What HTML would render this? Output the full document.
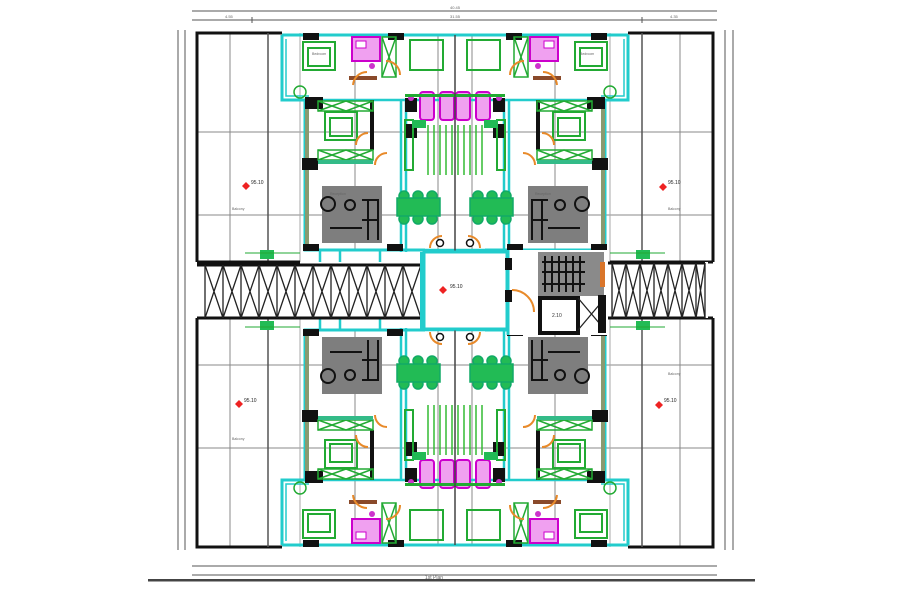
<!DOCTYPE html>
<html><head><meta charset="utf-8"><style>
html,body{margin:0;padding:0;background:#fff;}
svg{display:block;font-family:"Liberation Sans",sans-serif;}
</style></head><body>
<svg width="900" height="600" viewBox="0 0 900 600" xmlns="http://www.w3.org/2000/svg">
<defs>
<g id="q">
  <!-- grid lines -->
  <g stroke="#888" stroke-width="1">
    <line x1="197" y1="132" x2="455" y2="132"/>
    <line x1="197" y1="215" x2="455" y2="215"/>
    <line x1="230" y1="33" x2="230" y2="262"/>
    <line x1="355" y1="35" x2="355" y2="250"/>
    <line x1="438" y1="35" x2="438" y2="250"/>
    <line x1="300" y1="33" x2="300" y2="262" stroke="#aaa"/>
  </g>
  <!-- outer balcony frame -->
  <path d="M197,262 V33 H282" fill="none" stroke="#111" stroke-width="3"/>
  <line x1="268" y1="33" x2="268" y2="262" stroke="#555" stroke-width="1.5"/>
  <line x1="197" y1="262" x2="300" y2="262" stroke="#111" stroke-width="3"/>
  <!-- cyan walls -->
  <path d="M282,35 H455 M282,35 V100 H305 V250 H425" fill="none" stroke="#2cc" stroke-width="3"/>
  <path d="M286,39 V96 H309" fill="none" stroke="#2cc" stroke-width="1.5"/>
  <rect x="305" y="105" width="4" height="140" fill="#8a9a70"/>
  <g stroke="#2cc" stroke-width="2.5">
    <line x1="401" y1="100" x2="401" y2="252"/>
    <line x1="406" y1="100" x2="406" y2="252"/>
    <line x1="300" y1="100" x2="455" y2="100"/>
    <line x1="305" y1="250" x2="455" y2="250"/>
    <line x1="320" y1="250" x2="320" y2="262"/>
    <line x1="340" y1="250" x2="340" y2="262"/>
    <line x1="380" y1="250" x2="380" y2="262"/>
  </g>
  <!-- black columns -->
  <g fill="#111">
    <rect x="303" y="33" width="16" height="7"/>
    <rect x="388" y="33" width="16" height="7"/>
    <rect x="305" y="97" width="18" height="12"/>
    <rect x="302" y="158" width="16" height="12"/>
    <rect x="405" y="98" width="12" height="14"/>
    <rect x="405" y="124" width="12" height="14"/>
    <rect x="303" y="244" width="16" height="7"/>
    <rect x="387" y="244" width="16" height="7"/>
    <rect x="370" y="100" width="4" height="50"/>
  </g>
  <!-- beds -->
  <g fill="none" stroke="#2a3" stroke-width="2">
    <rect x="303" y="42" width="32" height="28"/>
    <rect x="308" y="48" width="22" height="18"/>
    <rect x="410" y="40" width="33" height="30"/>
    <rect x="325" y="112" width="32" height="28"/>
    <rect x="330" y="118" width="22" height="18"/>
  </g>
  <!-- wardrobes -->
  <g fill="none" stroke="#2a3" stroke-width="1.5">
    <rect x="318" y="101" width="55" height="10"/>
    <path d="M318,101 L346,111 M346,101 L318,111 M346,101 L373,111 M373,101 L346,111"/>
    <rect x="318" y="150" width="55" height="10"/>
    <path d="M318,150 L346,160 M346,150 L318,160 M346,150 L373,160 M373,150 L346,160"/>
    <rect x="382" y="37" width="14" height="40"/>
    <path d="M382,37 L396,77 M396,37 L382,77"/>
    <circle cx="300" cy="92" r="6"/>
  </g>
  <rect x="318" y="160" width="55" height="4" fill="#3b8"/>
  <!-- bath magenta -->
  <rect x="352" y="37" width="28" height="24" fill="#f0a0f0" stroke="#c0c" stroke-width="2"/>
  <rect x="356" y="41" width="10" height="7" fill="#fff" stroke="#c0c"/>
  <circle cx="372" cy="66" r="3" fill="#c3c"/>
  <rect x="349" y="76" width="28" height="4" fill="#8a4a2a"/>
  <rect x="420" y="92" width="14" height="28" fill="#f0a0f0" stroke="#c0c" stroke-width="2" rx="3"/>
  <rect x="440" y="92" width="14" height="28" fill="#f0a0f0" stroke="#c0c" stroke-width="2" rx="3"/>
  <circle cx="411" cy="98" r="3" fill="#c3c"/>
  <rect x="405" y="94" width="50" height="3" fill="#2a3"/>
  <!-- door arcs -->
  <g fill="none" stroke="#e88a2a" stroke-width="2">
    <path d="M353,85 A14,14 0 0 1 367,72"/>
    <path d="M356,145 A12,12 0 0 1 368,133"/>
    <path d="M375,165 A12,12 0 0 1 387,153"/>
    <path d="M430,248 A12,12 0 0 1 442,236"/>
    <path d="M400,75 A14,14 0 0 0 386,61"/>
  </g>
  <circle cx="440" cy="243" r="3.5" fill="#fff" stroke="#111" stroke-width="1.5"/>
  <!-- corridor column -->
  <rect x="405" y="120" width="8" height="50" fill="none" stroke="#2a3" stroke-width="2"/>
  <rect x="412" y="120" width="14" height="8" fill="#2b5"/>
  <g stroke="#3b3" stroke-width="1.5">
    <line x1="428" y1="125" x2="428" y2="175"/>
    <line x1="434" y1="125" x2="434" y2="175"/>
    <line x1="440" y1="125" x2="440" y2="175"/>
    <line x1="446" y1="125" x2="446" y2="175"/>
    <line x1="452" y1="125" x2="452" y2="175"/>
  </g>
  <!-- living -->
  <rect x="322" y="186" width="60" height="57" fill="#7e7e7e"/>
  <g fill="none" stroke="#111" stroke-width="2">
    <circle cx="328" cy="204" r="7"/>
    <circle cx="350" cy="205" r="5"/>
    <path d="M362,200 H378 V240 M368,200 V240 M362,220 H378 M330,228 H362"/>
  </g>
  <!-- dining -->
  <g fill="#2b5" stroke="#1a6" stroke-width="1.5">
    <circle cx="404" cy="196" r="5"/><circle cx="418" cy="196" r="5"/><circle cx="432" cy="196" r="5"/>
    <circle cx="404" cy="219" r="5"/><circle cx="418" cy="219" r="5"/><circle cx="432" cy="219" r="5"/>
    <rect x="397" y="198" width="43" height="18"/>
  </g>
  <!-- stair green mark -->
  <rect x="260" y="250" width="14" height="9" fill="#2b5"/>
  <line x1="245" y1="253" x2="300" y2="253" stroke="#2a3" stroke-width="1"/>
</g>
</defs>

<!-- dimension lines -->
<g stroke="#555" stroke-width="1" fill="#555">
  <line x1="192" y1="11" x2="717" y2="11"/>
  <line x1="192" y1="20" x2="717" y2="20"/>
  <line x1="252" y1="17" x2="252" y2="23"/><line x1="642" y1="17" x2="642" y2="23"/>
  <line x1="178" y1="30" x2="178" y2="550"/>
  <line x1="185" y1="30" x2="185" y2="550"/>
  <line x1="725" y1="30" x2="725" y2="550"/>
  <line x1="733" y1="30" x2="733" y2="550"/>
  <line x1="192" y1="566" x2="717" y2="566"/>
  <line x1="192" y1="575" x2="717" y2="575"/>
</g>
<rect x="148" y="579" width="607" height="2.5" fill="#444"/>
<g font-size="4" fill="#666">
  <text x="450" y="9">40.45</text><text x="225" y="18">4.55</text><text x="450" y="18">31.55</text><text x="670" y="18">4.35</text>
  <text x="425" y="579" font-size="5">1st Plan</text>
</g>

<use href="#q"/>
<use href="#q" transform="matrix(-1 0 0 1 910 0)"/>
<use href="#q" transform="matrix(1 0 0 -1 0 580)"/>
<use href="#q" transform="matrix(-1 0 0 -1 910 580)"/>
<line x1="455" y1="35" x2="455" y2="545" stroke="#444" stroke-width="1.5"/>

<!-- left truss -->
<rect x="197" y="264" width="226" height="54" fill="#fff"/>
<line x1="197" y1="265" x2="423" y2="265" stroke="#111" stroke-width="3"/>
<line x1="197" y1="318" x2="423" y2="318" stroke="#111" stroke-width="3"/>
<g stroke="#222" stroke-width="1.3">
  <path d="M205,265V318 M223,265V318 M241,265V318 M259,265V318 M277,265V318 M295,265V318 M313,265V318 M331,265V318 M349,265V318 M367,265V318 M385,265V318 M403,265V318 M421,265V318"/>
  <path d="M205,265L223,318M223,265L205,318M223,265L241,318M241,265L223,318M241,265L259,318M259,265L241,318M259,265L277,318M277,265L259,318M277,265L295,318M295,265L277,318M295,265L313,318M313,265L295,318M313,265L331,318M331,265L313,318M331,265L349,318M349,265L331,318M349,265L367,318M367,265L349,318M367,265L385,318M385,265L367,318M385,265L403,318M403,265L385,318M403,265L421,318M421,265L403,318"/>
</g>
<!-- right truss -->
<rect x="608" y="262" width="100" height="56" fill="#fff"/>
<line x1="608" y1="263" x2="705" y2="263" stroke="#111" stroke-width="3"/>
<line x1="608" y1="318" x2="705" y2="318" stroke="#111" stroke-width="3"/>
<g stroke="#222" stroke-width="1.3">
  <path d="M612,263V318 M626,263V318 M640,263V318 M654,263V318 M668,263V318 M682,263V318 M696,263V318 M705,263V318"/>
  <path d="M612,263L626,318M626,263L612,318M626,263L640,318M640,263L626,318M640,263L654,318M654,263L640,318M654,263L668,318M668,263L654,318M668,263L682,318M682,263L668,318M682,263L696,318M696,263L682,318M696,263L705,318M705,263L696,318"/>
</g>

<!-- centre box -->
<rect x="424" y="252" width="83" height="77" fill="#fff" stroke="#2cc" stroke-width="3"/>
<rect x="420" y="252" width="4" height="77" fill="#2cc"/>
<!-- core right -->
<rect x="508" y="250" width="100" height="85" fill="#fff"/>
<line x1="508" y1="250" x2="508" y2="335" stroke="#2cc" stroke-width="3"/>
<rect x="505" y="258" width="7" height="12" fill="#111"/>
<rect x="505" y="290" width="7" height="12" fill="#111"/>
<path d="M512,290 A22,22 0 0 1 534,312" fill="none" stroke="#e88a2a" stroke-width="2"/>
<rect x="538" y="252" width="66" height="44" fill="#8a8a8a"/>
<g stroke="#111" stroke-width="2">
  <path d="M542,262H585 M542,272H585 M542,284H585"/>
  <path d="M545,256V292 M552,256V292 M559,256V292 M566,256V292 M573,256V292 M580,256V292"/>
</g>
<rect x="600" y="262" width="5" height="25" fill="#d9752a"/>
<rect x="540" y="298" width="38" height="35" fill="#fff" stroke="#111" stroke-width="4"/>
<path d="M578,298 L605,330 M605,298 L578,330" stroke="#222" stroke-width="1.3"/>
<rect x="598" y="295" width="8" height="38" fill="#111"/>
<text x="552" y="317" font-size="5" fill="#333">2.10</text>

<!-- red markers -->
<g fill="#e22">
  <path d="M246,182 l4,4 -4,4 -4,-4z"/>
  <path d="M663,183 l4,4 -4,4 -4,-4z"/>
  <path d="M443,286 l4,4 -4,4 -4,-4z"/>
  <path d="M239,400 l4,4 -4,4 -4,-4z"/>
  <path d="M659,401 l4,4 -4,4 -4,-4z"/>
</g>
<g font-size="5" fill="#222">
  <text x="251" y="184">95.10</text><text x="668" y="184">95.10</text>
  <text x="450" y="288">95.10</text><text x="244" y="402">95.10</text><text x="664" y="402">95.10</text>
</g>
<g font-size="3.5" fill="#666">
  <text x="232" y="210">Balcony</text><text x="668" y="210">Balcony</text>
  <text x="232" y="440">Balcony</text><text x="668" y="375">Balcony</text>
  <text x="312" y="55">Bedroom</text><text x="580" y="55">Bedroom</text>
  <text x="330" y="195">Reception</text><text x="535" y="195">Reception</text>
</g>
</svg>
</body></html>
